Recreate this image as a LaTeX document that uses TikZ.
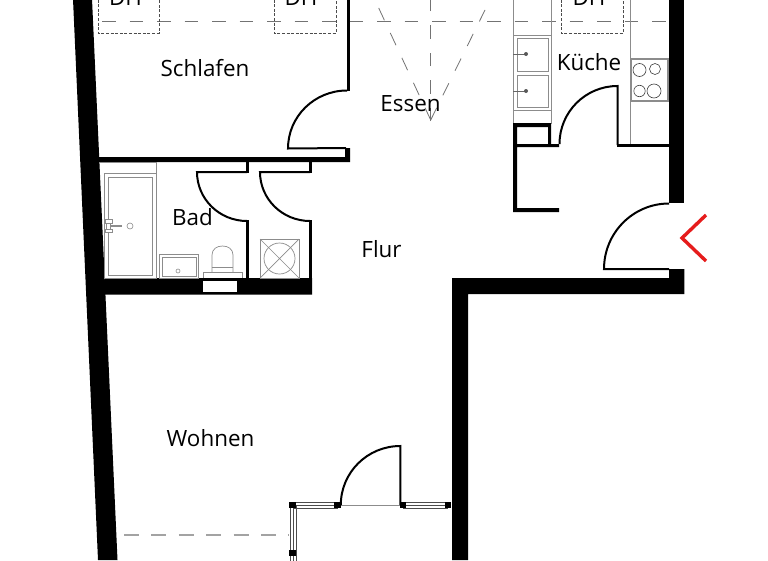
\documentclass[tikz,border=0pt]{standalone}
\usepackage{fontspec}
\setmainfont{Open Sans}
\definecolor{fix}{gray}{0.55}
\definecolor{redmark}{RGB}{230,28,28}
\tikzset{
  wall/.style={fill=black,draw=none},
  leaf/.style={draw=black,line width=2pt},
  fixture/.style={draw=fix,line width=0.8pt},
  dh/.style={draw=black!70,line width=1pt,dash pattern=on 3pt off 1.6pt},
  beam/.style={draw=black!55,line width=0.8pt,dash pattern=on 13.5pt off 14pt},
  room/.style={font=\fontsize{22.4}{25}\selectfont,text=black,inner sep=0pt,anchor=center},
  post/.style={fill=black,draw=none}
}
\begin{document}
\begin{tikzpicture}[x=1pt,y=-1pt]
\useasboundingbox[fill=white] (0,0) rectangle (768,560);
\begin{scope}
\clip (0,0) rectangle (768,560);
% beam lines
\draw[beam] (102,21) -- (672,21);
\draw[beam] (430.7,121) -- (430.7,-5);
\draw[beam] (430.7,120) -- (375,0);
\draw[beam] (430.7,120) -- (485,10);
% DH
\draw[dh] (98,-5) -- (98,33) -- (159,33) -- (159,-5);
\draw[dh] (274,-5) -- (274,33) -- (336,33) -- (336,-5);
\draw[dh] (561,-5) -- (561,33) -- (623,33) -- (623,-5);
\node[room,anchor=base] (dh1) at (125.5,5) {DH};
\node[room,anchor=base] (dh2) at (301,5) {DH};
\node[room,anchor=base] (dh3) at (589,5) {DH};
% outer walls
\fill[wall] (73,-1) -- (92,-1) -- (117.5,560) -- (98,560) -- cycle;
\fill[wall] (669,-1) rectangle (684.3,203);
\fill[wall] (669,269) -- (684.3,269) -- (684.3,294) -- (468,294) -- (468,560) -- (452,560) -- (452,278) -- (669,278) -- cycle;
% Schlafen wall and door
\fill[wall] (346.5,-1) rectangle (350,91);
\fill[wall] (99,157) -- (345,157) -- (345,148) -- (350,148) -- (350,162) -- (99,162) -- cycle;
\draw[leaf] (347,90.5) arc[start angle=90,end angle=180,x radius=59,y radius=-58] -- (346,148);
% bath partitions
\fill[wall] (245.7,162) rectangle (249,173);
\fill[wall] (308.7,162) rectangle (312,173);
\fill[wall] (245.7,220) rectangle (249,279);
\fill[wall] (308.7,220) rectangle (312,279);
\draw[leaf] (247,172) -- (197,172) arc[start angle=180,end angle=270,x radius=50,y radius=-49];
\draw[leaf] (310,172) -- (260,172) arc[start angle=180,end angle=270,x radius=50,y radius=-49];
\fill[wall] (104.6,278) -- (312,278) -- (312,294.5) -- (105,294.5) -- cycle;
\fill[white] (203,281) rectangle (237,292);
% bath fixtures
\draw[fixture,line width=0.7pt] (99,162.5) -- (156,162.5) -- (156,278);
\draw[fixture] (104.5,173) rectangle (156,278);
\draw[fixture] (108,177) rectangle (152,275);
\draw[fixture,fill=white,line width=0.6pt] (105,219) rectangle (112,223);
\draw[fixture,fill=white,line width=0.6pt] (105,229) rectangle (112,232);
\draw[fixture,fill=white,line width=0.6pt] (106,223) rectangle (110,229);
\draw[fixture,line width=1.3pt] (110,226) -- (122,226);
\draw[fixture,line width=0.6pt] (130,226) circle[radius=3];
\draw[fixture] (159,254) rectangle (198,278);
\draw[fixture] (162,257) rectangle (196.5,276);
\draw[fixture,line width=0.6pt] (178,271) circle[radius=2];
\draw[fixture,line width=0.7pt] (203,278) -- (203,272) -- (242,272) -- (242,278);
\draw[fixture,line width=0.7pt] (212,272) -- (212,255) .. controls (212,249) and (217,246) .. (222.5,246) .. controls (228,246) and (233,249) .. (233,255) -- (233,272);
\draw[fixture,line width=0.9pt] (212,267) -- (233,267);
\draw[fixture] (260,239) rectangle (299,278);
\draw[fixture,line width=0.7pt] (260,239) -- (299,278) (299,239) -- (260,278);
\draw[fixture,line width=0.7pt] (279.5,258.5) circle[radius=15.5];
% kitchen fixtures
\draw[fixture,line width=0.7pt] (513,-1) -- (513,124);
\draw[fixture,line width=0.7pt] (551,-1) -- (551,124);
\draw[fixture] (630,-1) -- (630,145);
\draw[fixture,line width=0.7pt] (513,35) rectangle (551,110);
\draw[fixture] (517,38) rectangle (548,71);
\draw[fixture] (517,75) rectangle (548,107);
\draw[black!60,line width=1pt] (513,54) -- (526,54);
\draw[black!60,line width=1pt] (513,91) -- (526,91);
\fill[black!65] (526,54) circle[radius=2];
\fill[black!65] (526,91) circle[radius=2];
\draw[fixture,fill=white,line width=1.1pt] (631.5,59) rectangle (668,101);
\draw[black!75,line width=0.6pt] (639.5,70) circle[radius=6.5];
\draw[black!75,line width=0.6pt] (655,69) circle[radius=5.5];
\draw[black!75,line width=0.6pt] (639.5,91) circle[radius=5.7];
\draw[black!75,line width=0.6pt] (654,91) circle[radius=7];
% kitchen walls
\fill[wall,even odd rule] (513,123) -- (551,123) -- (551,144) -- (559,144) -- (559,147) -- (517,147) -- (517,208) -- (559,208) -- (559,212) -- (513,212) -- cycle (517,127) rectangle (548,144);
\fill[wall] (616.5,144) rectangle (669,147);
\draw[leaf] (617.5,145) -- (617.5,86) arc[start angle=90,end angle=180,x radius=58,y radius=-58];
% entrance door
\draw[leaf] (669,203.5) arc[start angle=90,end angle=180,x radius=65,y radius=-65.5] -- (669,269);
\draw[redmark,line width=3.4pt] (706,215) -- (682,238) -- (706,261);
% balcony window and door
\draw[fixture,line width=0.7pt] (341,505) -- (403,505);
\draw[leaf] (400.3,505) -- (400.3,446) arc[start angle=90,end angle=180,x radius=59.5,y radius=-59];
\foreach \xa/\xb in {293/338,403/448}{
  \draw[black!70,line width=0.6pt] (\xa,501.8) -- (\xb,501.8) (\xa,505) -- (\xb,505) (\xa,508) -- (\xb,508);
}
\draw[black!70,line width=0.6pt] (289.8,505) -- (289.8,562) (292.8,505) -- (292.8,562) (296,505) -- (296,562);
\foreach \px/\py in {292.8/505,337.7/505,403/505,448/505,292.8/553}{
  \fill[post] (\px-3.4,\py-3.4) rectangle (\px+3.4,\py+3.4);
}
\draw[fix!80,line width=1.1pt,dash pattern=on 15pt off 12.4pt] (124,535) -- (289,535);
\end{scope}
% labels
\node[room] (schlafen) at (205,68.5) {Schlafen};
\node[room] (essen) at (410.5,104) {Essen};
\node[room] (kueche) at (589,62) {Küche};
\node[room] (bad) at (192.5,217) {Bad};
\node[room] (flur) at (381.5,249) {Flur};
\node[room] (wohnen) at (210.5,438) {Wohnen};
\end{tikzpicture}
\end{document}
